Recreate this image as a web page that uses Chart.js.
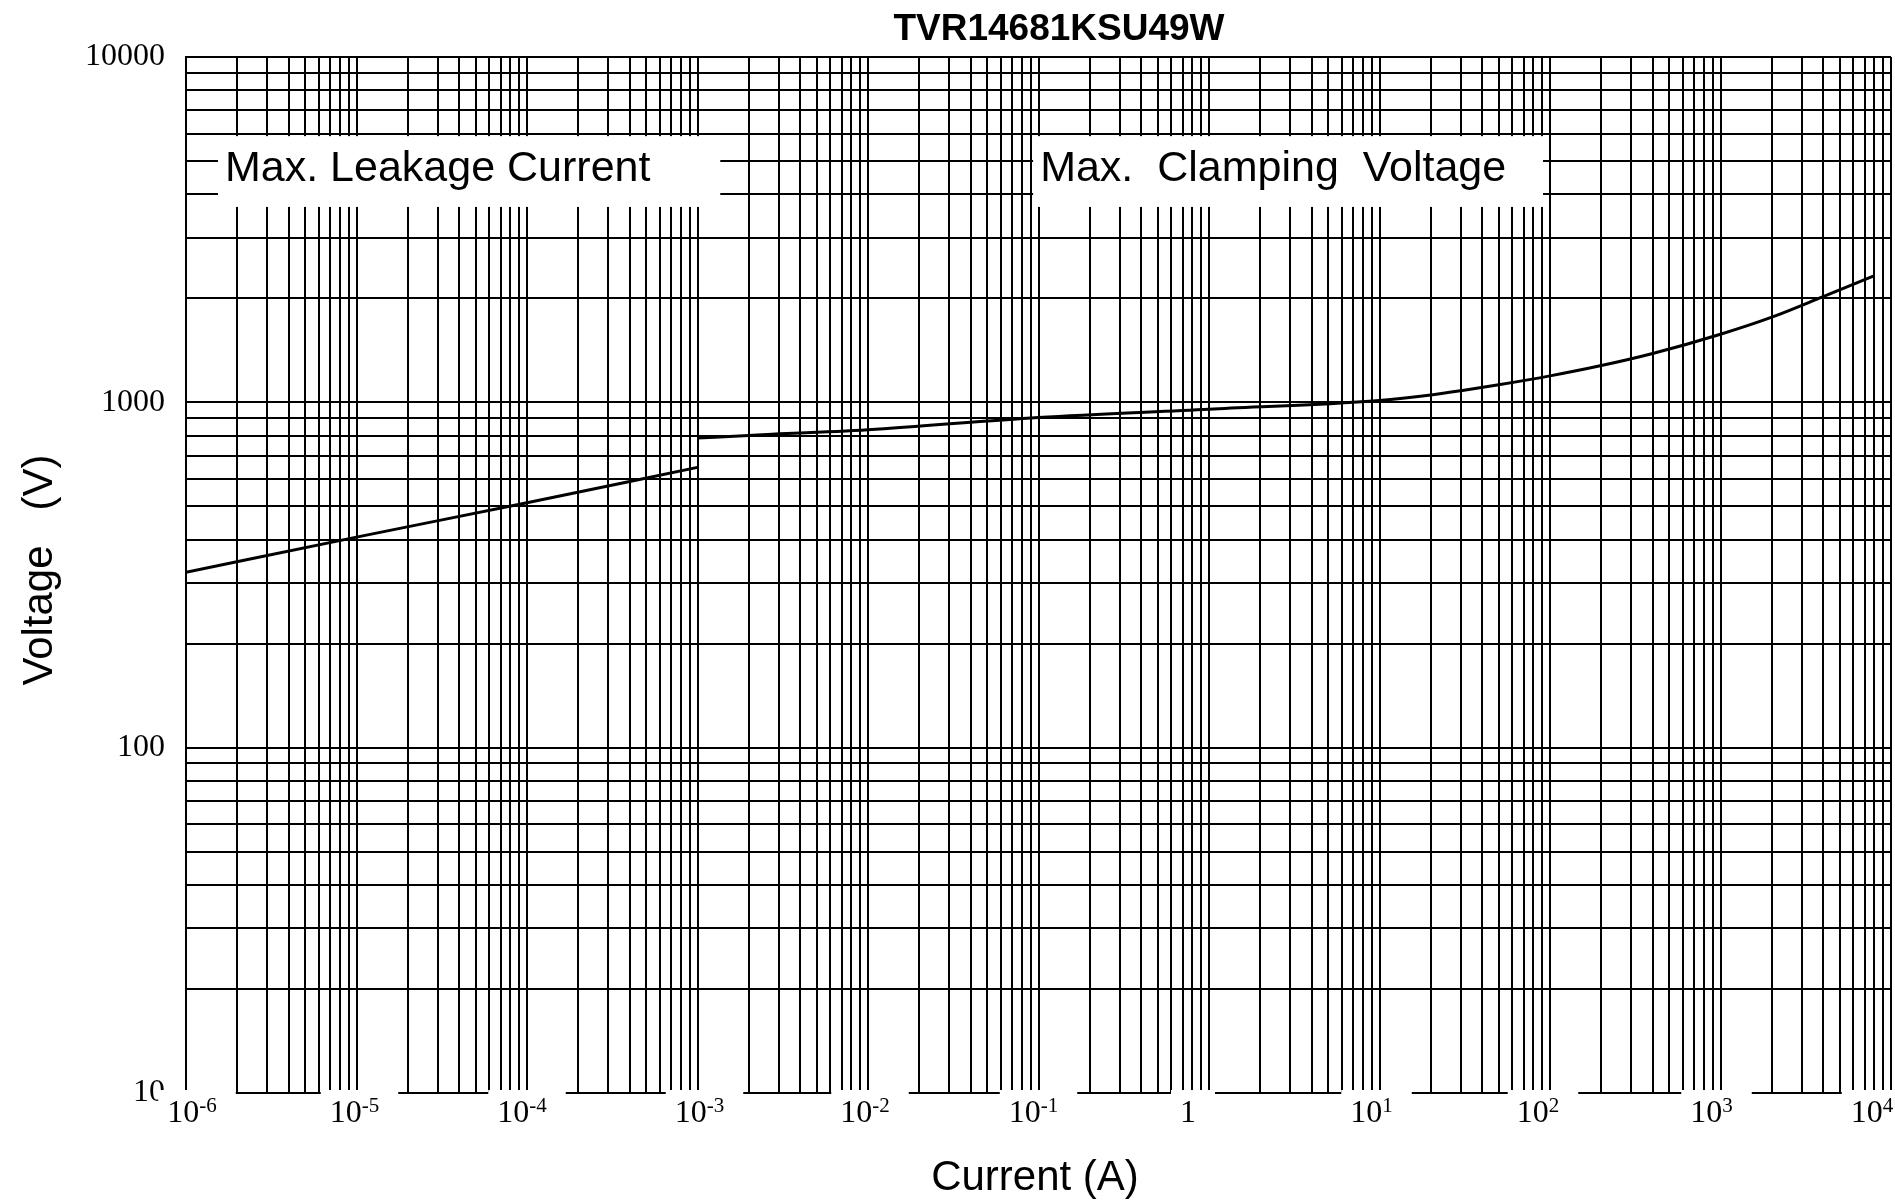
<!DOCTYPE html>
<html>
<head>
<meta charset="utf-8">
<title>TVR14681KSU49W</title>
<script src="https://cdn.jsdelivr.net/npm/chart.js@4.4.1/dist/chart.umd.min.js"></script>
<style>
  html, body { margin: 0; padding: 0; background: #fff; }
  canvas { display: block; }
</style>
</head>
<body>
<canvas id="vi" width="1895" height="1203"></canvas>
<script>
// V-I curve
const leakCurrent = [1e-6, 1e-5, 1e-4, 1e-3];
const leakVoltage = [322, 407, 512, 648];

const clampCurrent = [1e-3, 2e-3, 1e-2, 1e-1, 1, 10, 20, 30, 50, 100, 200, 400, 1000, 2000, 4000, 8000];
const clampVoltage = [788, 802, 833, 904, 955, 1013, 1050, 1080, 1124, 1193, 1278, 1385, 1575, 1765, 2024, 2328];

// axis decades
const currentExp = [-6, -5, -4, -3, -2, -1, 0, 1, 2, 3, 4];
const voltageLabels = [10, 100, 1000, 10000];

const titleText = "TVR14681KSU49W";
const xTitle = "Current (A)";
const yTitle = "Voltage   (V)";
const notes = ["Max. Leakage Current", "Max.  Clamping  Voltage"];

const SANS = '"Liberation Sans", Arial, sans-serif';
const SERIF = '"Liberation Serif", "Times New Roman", serif';

// 1..9 x 10^e for every decade -> full log grid
function logGrid(minExp, maxExp) {
  const out = [];
  for (let e = minExp; e < maxExp; e++) {
    for (let m = 1; m < 10; m++) out.push({ value: m * Math.pow(10, e) });
  }
  out.push({ value: Math.pow(10, maxExp) });
  return out;
}

// white label boxes with the two annotations
const notesPlugin = {
  id: "notes",
  beforeDatasetsDraw(chart) {
    const { ctx, scales: { x, y } } = chart;
    const boxes = [[1.54e-6, 1.36e-3], [0.093, 91]];
    const top = y.getPixelForValue(5900);
    const bot = y.getPixelForValue(3680);
    ctx.save();
    ctx.font = "43px " + SANS;
    ctx.textBaseline = "alphabetic";
    boxes.forEach((b, i) => {
      const l = x.getPixelForValue(b[0]);
      const r = x.getPixelForValue(b[1]);
      ctx.fillStyle = "#fff";
      ctx.fillRect(l, top, r - l, bot - top);
      ctx.fillStyle = "#000";
      ctx.fillText(notes[i], l + 7, top + 45);
    });
    ctx.restore();
  }
};

// titles and 10^n labels on the current axis
const labelNudge = [6, -2, -5, 2, -3, -5, -21, -8, -12, -9, -19];
const textPlugin = {
  id: "texts",
  afterDraw(chart) {
    const { ctx, scales: { x } } = chart;
    ctx.save();
    ctx.fillStyle = "#000";

    ctx.textAlign = "center";
    ctx.textBaseline = "alphabetic";
    ctx.font = "bold 37px " + SANS;
    ctx.fillText(titleText, 1059, 40);

    ctx.font = "42px " + SANS;
    ctx.fillText(xTitle, 1035, 1190);

    ctx.save();
    ctx.translate(52, 570);
    ctx.rotate(-Math.PI / 2);
    ctx.fillText(yTitle, 0, 0);
    ctx.restore();

    ctx.textAlign = "left";
    currentExp.forEach((e, i) => {
      const px = x.getPixelForValue(Math.pow(10, e));
      const base = e === 0 ? "1" : "10";
      const sup = e === 0 ? "" : String(e);
      ctx.font = "32px " + SERIF;
      const wb = ctx.measureText(base).width;
      ctx.font = "21px " + SERIF;
      const ws = sup ? ctx.measureText(sup).width : 0;
      const left = px - (wb + ws) / 2 + labelNudge[i];
      ctx.fillStyle = "#fff";
      ctx.fillRect(left - 9, chart.chartArea.bottom - 3, wb + ws + 28, 50);
      ctx.fillStyle = "#000";
      ctx.font = "32px " + SERIF;
      ctx.fillText(base, left, 1122);
      if (sup) {
        ctx.font = "21px " + SERIF;
        ctx.fillText(sup, left + wb, 1112);
      }
    });
    ctx.restore();
  }
};

const gridStyle = { color: "#000", lineWidth: 2, drawTicks: false };
const borderStyle = { color: "#000", width: 2 };

new Chart(document.getElementById("vi"), {
  type: "line",
  data: {
    datasets: [
      {
        label: "Max. Leakage Current",
        data: leakCurrent.map((c, i) => ({ x: c, y: leakVoltage[i] })),
        borderColor: "#000",
        borderWidth: 3,
        pointRadius: 0,
        cubicInterpolationMode: "monotone"
      },
      {
        label: "Max. Clamping Voltage",
        data: clampCurrent.map((c, i) => ({ x: c, y: clampVoltage[i] })),
        borderColor: "#000",
        borderWidth: 3,
        pointRadius: 0,
        cubicInterpolationMode: "monotone"
      }
    ]
  },
  options: {
    responsive: false,
    animation: false,
    layout: { padding: { top: 57, right: 4, left: 0, bottom: 0 } },
    plugins: {
      legend: { display: false },
      title: { display: false },
      tooltip: { enabled: false }
    },
    scales: {
      x: {
        type: "logarithmic",
        min: 1e-6,
        max: 1e4,
        afterBuildTicks: s => { s.ticks = logGrid(-6, 4); },
        afterFit: s => { s.height = 110; },
        ticks: { display: false, autoSkip: false },
        grid: gridStyle,
        border: borderStyle
      },
      y: {
        type: "logarithmic",
        min: 10,
        max: 10000,
        afterBuildTicks: s => { s.ticks = logGrid(1, 4); },
        afterFit: s => { s.width = 186; },
        ticks: {
          autoSkip: false,
          color: "#000",
          padding: 21,
          font: { family: SERIF, size: 32 },
          callback: v => voltageLabels.includes(v) ? String(v) : ""
        },
        grid: gridStyle,
        border: borderStyle
      }
    }
  },
  plugins: [notesPlugin, textPlugin]
});
</script>
</body>
</html>
